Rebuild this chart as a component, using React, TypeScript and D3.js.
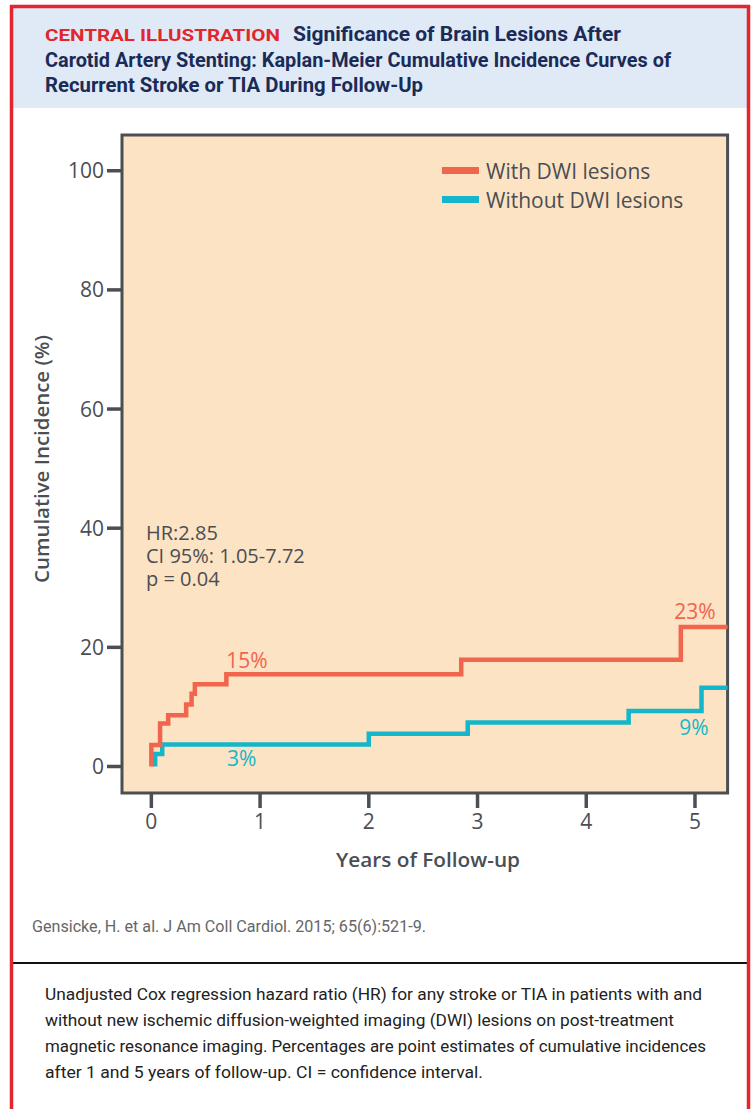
import React from 'react';
import * as d3 from 'd3';

// Kaplan-Meier step data (years, cumulative incidence %)
const withTimes = [0, 0.08, 0.155, 0.32, 0.37, 0.40, 0.69, 2.85, 4.87];
const withValues = [3.6, 7.2, 8.6, 10.4, 12.2, 13.8, 15.5, 17.9, 23.4];
const withoutTimes = [0.035, 0.1, 2.0, 2.91, 4.39, 5.06];
const withoutValues = [2.1, 3.7, 5.5, 7.4, 9.3, 13.2];

const xTicks = [0, 1, 2, 3, 4, 5];
const yTicks = [0, 20, 40, 60, 80, 100];

const estimateLabels = [
  { text: '15%', t: 0.88, v: 16.5, color: 'red' },
  { text: '3%', t: 0.83, v: 0, color: 'blue' },
  { text: '23%', t: 5.0, v: 24.8, color: 'red' },
  { text: '9%', t: 4.99, v: 5.3, color: 'blue' },
];

const statLines = ['HR:2.85', 'CI 95%: 1.05-7.72', 'p = 0.04'];
const legendItems = [
  { label: 'With DWI lesions', color: 'red' },
  { label: 'Without DWI lesions', color: 'blue' },
];

const captionLines = [
  'Unadjusted Cox regression hazard ratio (HR) for any stroke or TIA in patients with and',
  'without new ischemic diffusion-weighted imaging (DWI) lesions on post-treatment',
  'magnetic resonance imaging. Percentages are point estimates of cumulative incidences',
  'after 1 and 5 years of follow-up. CI = confidence interval.',
];
const captionWidths = [657, 629, 661, 438];

const RED = '#f1644e';
const BLUE = '#15b6c9';
const INK = '#4b4e53';
const colorOf = (c: string) => (c === 'red' ? RED : BLUE);

const chartFont = '"Open Sans", "Noto Sans", sans-serif';
const narrowFont = '"Liberation Sans Narrow", "Roboto", "Open Sans", sans-serif';

const App = () => {
  const x = d3.scaleLinear().domain([-0.27, 5.3]).range([122, 727.6]);
  const y = d3.scaleLinear().domain([-4.45, 106]).range([793, 135]);
  const [x0, x1] = x.range();
  const [yb, yt] = y.range();
  const tEnd = x.domain()[1];

  const line = d3
    .line<[number, number]>()
    .x((d) => x(d[0]))
    .y((d) => y(d[1]))
    .curve(d3.curveStepAfter);

  const stepPoints = (times: number[], values: number[]): [number, number][] => {
    const pts: [number, number][] = [[times[0], 0]];
    times.forEach((t, i) => pts.push([t, values[i]]));
    pts.push([tEnd, values[values.length - 1]]);
    return pts;
  };

  return (
    <svg
      width={753}
      height={1109}
      style={{ position: 'absolute', left: 0, top: 0, background: '#fff' }}
    >
      {/* header */}
      <rect x={13} y={8} width={734} height={100} fill="#dfeaf6" />
      <text
        x={45}
        y={41}
        fill="#e2262d"
        fontFamily={narrowFont}
        fontWeight={700}
        fontSize={17}
        textLength={235}
        lengthAdjust="spacingAndGlyphs"
      >
        CENTRAL ILLUSTRATION
      </text>
      <g fill="#1b2b58" fontFamily={narrowFont} fontWeight={700} fontSize={20}>
        <text x={293} y={41} textLength={328} lengthAdjust="spacingAndGlyphs">
          Significance of Brain Lesions After
        </text>
        <text x={45} y={67} textLength={626} lengthAdjust="spacingAndGlyphs">
          Carotid Artery Stenting: Kaplan-Meier Cumulative Incidence Curves of
        </text>
        <text x={45} y={92} textLength={378} lengthAdjust="spacingAndGlyphs">
          Recurrent Stroke or TIA During Follow-Up
        </text>
      </g>

      {/* plot frame */}
      <rect
        x={x0}
        y={yt}
        width={x1 - x0}
        height={yb - yt}
        fill="#fce3c3"
        stroke={INK}
        strokeWidth={3}
      />

      {/* y axis */}
      <g fontFamily={chartFont} fontSize={21} fill={INK}>
        {yTicks.map((v) => (
          <g key={v}>
            <line x1={x0 - 15} x2={x0} y1={y(v)} y2={y(v)} stroke={INK} strokeWidth={3.5} />
            <text x={x0 - 18} y={y(v) + 7.5} textAnchor="end">
              {v}
            </text>
          </g>
        ))}
      </g>
      <text
        transform={`translate(49,459) rotate(-90)`}
        textAnchor="middle"
        fontFamily={chartFont}
        fontWeight={600}
        fontSize={20}
        fill={INK}
        textLength={248}
        lengthAdjust="spacingAndGlyphs"
      >
        Cumulative Incidence (%)
      </text>

      {/* x axis */}
      <g fontFamily={chartFont} fontSize={21} fill={INK}>
        {xTicks.map((t) => (
          <g key={t}>
            <line x1={x(t)} x2={x(t)} y1={yb} y2={yb + 15} stroke={INK} strokeWidth={3.5} />
            <text x={x(t)} y={yb + 36} textAnchor="middle">
              {t}
            </text>
          </g>
        ))}
      </g>
      <text
        x={428}
        y={867}
        textAnchor="middle"
        fontFamily={chartFont}
        fontWeight={600}
        fontSize={20}
        fill={INK}
        textLength={184}
        lengthAdjust="spacingAndGlyphs"
      >
        Years of Follow-up
      </text>

      {/* curves */}
      <path
        d={line(stepPoints(withoutTimes, withoutValues)) || ''}
        fill="none"
        stroke={BLUE}
        strokeWidth={4.5}
      />
      <path
        d={line(stepPoints(withTimes, withValues)) || ''}
        fill="none"
        stroke={RED}
        strokeWidth={4.5}
      />

      {/* point estimate labels */}
      <g fontFamily={chartFont} fontSize={21} textAnchor="middle">
        {estimateLabels.map((d) => (
          <text key={d.text} x={x(d.t)} y={y(d.v)} fill={colorOf(d.color)}>
            {d.text}
          </text>
        ))}
      </g>

      {/* stats */}
      <text fontFamily={chartFont} fontSize={20} fill={INK} y={540}>
        {statLines.map((s, i) => (
          <tspan key={s} x={146} dy={i === 0 ? 0 : 23}>
            {s}
          </tspan>
        ))}
      </text>

      {/* legend */}
      <g fontFamily={chartFont} fontSize={21} fill={INK}>
        {legendItems.map((d, i) => (
          <g key={d.label} transform={`translate(0,${170.5 + i * 29})`}>
            <line x1={442} x2={479} y1={0} y2={0} stroke={colorOf(d.color)} strokeWidth={7} />
            <text x={486} y={8}>
              {d.label}
            </text>
          </g>
        ))}
      </g>

      {/* source + caption */}
      <text
        x={32}
        y={932}
        fill="#666"
        fontFamily={narrowFont}
        fontSize={16}
        textLength={394}
        lengthAdjust="spacingAndGlyphs"
      >
        Gensicke, H. et al. J Am Coll Cardiol. 2015; 65(6):521-9.
      </text>
      <line x1={13} x2={747} y1={963} y2={963} stroke="#111" strokeWidth={2} />
      <g fill="#222" fontFamily={narrowFont} fontSize={17}>
        {captionLines.map((s, i) => (
          <text
            key={i}
            x={45}
            y={1000 + i * 26}
            textLength={captionWidths[i]}
            lengthAdjust="spacingAndGlyphs"
          >
            {s}
          </text>
        ))}
      </g>

      {/* outer red frame, open at the bottom */}
      <path
        d="M11.5,1109 V6.5 H748.5 V1109"
        fill="none"
        stroke="#e2262d"
        strokeWidth={3.5}
      />
    </svg>
  );
};

export default App;
